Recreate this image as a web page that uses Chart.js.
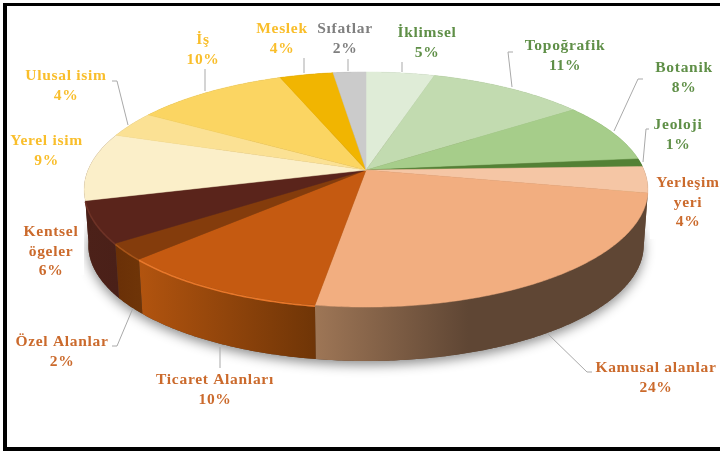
<!DOCTYPE html>
<html><head><meta charset="utf-8">
<style>html,body{margin:0;padding:0;background:#fff;overflow:hidden}canvas{display:block}</style>
<script src="https://cdn.jsdelivr.net/npm/chart.js@4/dist/chart.umd.min.js"></script>
</head><body><div style="width:720px;height:451px"><canvas id="c" width="720" height="451"></canvas></div>
<script>
const categories=["İklimsel","Topoğrafik","Botanik","Jeoloji","Yerleşim yeri","Kamusal alanlar","Ticaret Alanları","Özel Alanlar","Kentsel ögeler","Yerel isim","Ulusal isim","İş","Meslek","Sıfatlar"];
const values=[4.6,10.6,8.2,1.1,3.6,24.3,10.4,2.3,5.7,9.3,3.6,10.4,3.6,2.2];
const topColors=["#DFECD7","#C2DBB0","#A6CD8A","#538135","#F5C6A5","#F2AE80","#C55A11","#843C0C","#5A241B","#FBEFC9","#FBE194","#FBD562","#F1B501","#CBCBCB"];
const sideLeft=["#8a9a80","#7a9468","#6a8f50","#38581f","#6E5340","#9E7656","#B2540F","#6F3508","#4A2018","#4A2018","#a89660","#a88f3a","#a07800","#888888"];
const sideRight=["#8a9a80","#7a9468","#6a8f50","#38581f","#5F4634","#5F4634","#6F3507","#6A3007","#4C2119","#4A2018","#a89660","#a88f3a","#a07800","#888888"];
const rimColors=[null,null,null,null,null,null,"#E8772A","#A85418","#6E3226",null,null,null,null,null];
const labelLines=[["İklimsel"],["Topoğrafik"],["Botanik"],["Jeoloji"],["Yerleşim","yeri"],["Kamusal alanlar"],["Ticaret Alanları"],["Özel Alanlar"],["Kentsel","ögeler"],["Yerel isim"],["Ulusal isim"],["İş"],["Meslek"],["Sıfatlar"]];
const labelColors=["#5F8F47","#5F8F47","#5F8F47","#5F8F47","#CB6A2C","#CB6A2C","#CB6A2C","#CB6A2C","#CB6A2C","#F9BE2B","#F9BE2B","#F9BE2B","#F9BE2B","#7F7F7F"];
const labelX=[427,565,684,678,688,656,215,62,51,46.5,66,203,282,345];
const labelY=[33,46,68,125,183,368,380,342,232,141,76,40,29,29];
const leaders=[[[402,62],[402,72]],[[513,52],[508,52],[512,87]],[[643,79],[638,79],[614,131]],[[649,129],[646,129],[643,162]],null,[[592,372],[587,372],[548,334]],[[220,368],[220,347]],[[112,346],[117,346],[133,308]],null,null,[[112,81],[117,81],[128,125]],[[205,69],[205,91]],[[304,58],[304,73]],[[348,59],[348,71]]];

const K=0.166,SX=278/170,SY=114.3/170,WALL_DY=56,WALL_S=0.985;
function proj(el,a,wall){
  const u=Math.cos(a),v=Math.sin(a),w=1-K*v,s=wall?WALL_S:1;
  return [el.x+el.outerRadius*SX*s*u/w, el.y+(wall?WALL_DY:0)+el.outerRadius*SY*s*v/w];
}
function edge(el,wall){
  const n=Math.max(4,Math.ceil((el.endAngle-el.startAngle)/0.01)),p=[];
  for(let i=0;i<=n;i++)p.push(proj(el,el.startAngle+(el.endAngle-el.startAngle)*i/n,wall));
  return p;
}
const pie3d={id:'pie3d',
  beforeDatasetDraw(chart,args){
    const ctx=chart.ctx,arcs=chart.getDatasetMeta(args.index).data;
    ctx.save();
    ctx.save();
    ctx.shadowColor='rgba(0,0,0,0.45)';ctx.shadowBlur=12;ctx.shadowOffsetY=4;
    ctx.fillStyle='#5F4634';ctx.beginPath();
    arcs.forEach(el=>edge(el,true).forEach(p=>ctx.lineTo(p[0],p[1])));
    ctx.closePath();ctx.fill();ctx.restore();
    ctx.fillStyle='#fff';
    ctx.fillRect(650,172,70,67);ctx.fillRect(8,222,76,53);
    arcs.forEach((el,i)=>{
      const t=edge(el,false),b=edge(el,true),xs=t.concat(b).map(p=>p[0]);
      const g=ctx.createLinearGradient(Math.min(...xs),0,Math.max(...xs),0);
      if(i===5){
        g.addColorStop(0,sideRight[i]);g.addColorStop(0.52,sideRight[i]);g.addColorStop(1,sideLeft[i]);
      }else{
        g.addColorStop(0,sideRight[i]);g.addColorStop(1,sideLeft[i]);
      }
      if(i===6){
        const h=ctx.createLinearGradient(Math.min(...xs),0,Math.max(...xs),0);
        h.addColorStop(0,sideLeft[i]);h.addColorStop(1,sideRight[i]);
        ctx.fillStyle=h;
      }else if(i===5){
        const h=ctx.createLinearGradient(Math.min(...xs),0,Math.max(...xs),0);
        h.addColorStop(0,sideLeft[i]);h.addColorStop(0.46,sideRight[i]);h.addColorStop(1,sideRight[i]);
        ctx.fillStyle=h;
      }else{
        ctx.fillStyle=g;
      }
      ctx.beginPath();
      t.forEach(p=>ctx.lineTo(p[0],p[1]));
      b.reverse().forEach(p=>ctx.lineTo(p[0],p[1]));
      ctx.closePath();ctx.fill();
    });
    arcs.forEach((el,i)=>{
      ctx.fillStyle=el.options.backgroundColor;ctx.strokeStyle=el.options.backgroundColor;ctx.lineWidth=0.5;
      ctx.beginPath();ctx.moveTo(el.x,el.y);
      edge(el,false).forEach(p=>ctx.lineTo(p[0],p[1]));
      ctx.closePath();ctx.fill();ctx.stroke();
    });
    arcs.forEach((el,i)=>{
      if(!rimColors[i])return;
      ctx.strokeStyle=rimColors[i];ctx.lineWidth=1.6;ctx.beginPath();
      edge(el,false).forEach(p=>ctx.lineTo(p[0],p[1]+1));
      ctx.stroke();
    });
    ctx.restore();
    return false;
  },
  afterDatasetsDraw(chart){
    const ctx=chart.ctx;
    ctx.save();
    ctx.strokeStyle='#A9A9A9';ctx.lineWidth=1;
    leaders.forEach(l=>{if(!l)return;ctx.beginPath();l.forEach(p=>ctx.lineTo(p[0],p[1]));ctx.stroke();});
    ctx.font='bold 15.5px "Liberation Serif"';ctx.letterSpacing='0.7px';
    ctx.textAlign='center';ctx.textBaseline='middle';
    categories.forEach((c,i)=>{
      const lines=labelLines[i].concat([Math.round(values[i])+'%']);
      ctx.fillStyle=labelColors[i];
      lines.forEach((s,j)=>ctx.fillText(s,labelX[i],labelY[i]+j*19.7));
    });
    ctx.fillStyle='#000';
    ctx.fillRect(3,3,717,3);ctx.fillRect(3,3,4,448);ctx.fillRect(3,447,717,4);
    ctx.restore();
  }
};
new Chart(document.getElementById('c'),{
  type:'pie',
  data:{labels:categories,datasets:[{data:values,backgroundColor:topColors,borderWidth:0}]},
  options:{responsive:false,animation:false,
    layout:{padding:{left:12,right:0,top:0,bottom:111}},
    plugins:{legend:{display:false},tooltip:{enabled:false}}},
  plugins:[pie3d]
});
</script></body></html>
